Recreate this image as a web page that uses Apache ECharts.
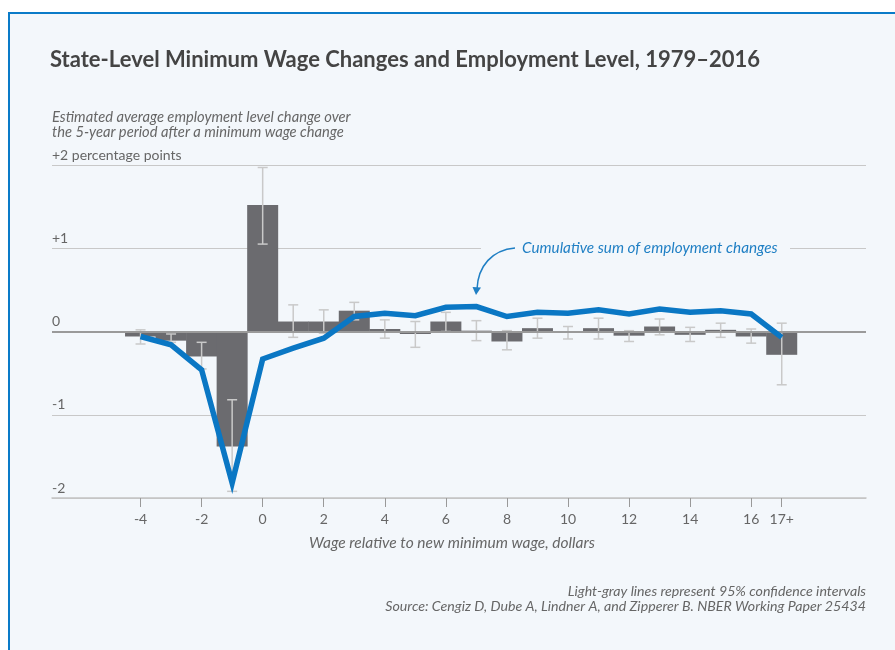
<!DOCTYPE html>
<html>
<head>
<meta charset="utf-8">
<script src="https://cdn.jsdelivr.net/npm/echarts@6/dist/echarts.min.js"></script>
<style>
  html, body { margin: 0; padding: 0; background: #fff; }
  #box { position: absolute; left: 8px; top: 12px; width: 900px; height: 660px;
         border-left: 2px solid #0a7bc8; border-top: 2px solid #0a7bc8; background: #f3f7fb; }
  #chart { position: absolute; left: 0; top: 0; width: 895px; height: 650px; }
</style>
</head>
<body>
<div id="box"></div>
<div id="chart"></div>
<script>
// wage relative to new minimum wage (17 = "17+")
var wageBins = [-4, -3, -2, -1, 0, 1, 2, 3, 4, 5, 6, 7, 8, 9, 10, 11, 12, 13, 14, 15, 16, 17];
// employment change by bin, percentage points
var empChange = [-0.06, -0.11, -0.30, -1.38, 1.52, 0.12, 0.12, 0.25, 0.03, -0.03, 0.12, 0.01,
                 -0.12, 0.04, -0.01, 0.04, -0.05, 0.06, -0.04, 0.02, -0.06, -0.28];
// 95% confidence interval
var ciHigh = [0.02, -0.03, -0.13, -0.82, 1.97, 0.32, 0.26, 0.35, 0.14, 0.12, 0.23, 0.13,
              0.01, 0.16, 0.06, 0.16, 0.01, 0.15, 0.05, 0.10, 0.03, 0.10];
var ciLow = [-0.15, -0.13, -0.45, -1.92, 1.05, -0.07, -0.02, 0.14, -0.08, -0.19, 0.00, -0.11,
             -0.22, -0.08, -0.09, -0.09, -0.12, -0.04, -0.12, -0.07, -0.14, -0.64];
// cumulative sum of employment changes
var cumSum = [-0.06, -0.16, -0.46, -1.82, -0.33, -0.20, -0.08, 0.18, 0.22, 0.19, 0.29, 0.30,
              0.18, 0.23, 0.22, 0.26, 0.21, 0.27, 0.23, 0.25, 0.21, -0.07];

var xTicks = [-4, -2, 0, 2, 4, 6, 8, 10, 12, 14, 16, 17];
var yTicks = [-2, -1, 0, 1, 2];
var yTickLabels = ['-2', '-1', '0', '+1', '+2 percentage points'];

var font = 'Lato, "Noto Sans", sans-serif';
var gray = '#666';
var bg = '#f3f7fb';

var barData = wageBins.map(function (w, i) { return [w, empChange[i]]; });
var ciData = wageBins.map(function (w, i) { return [w, ciHigh[i], ciLow[i]]; });
var lineData = wageBins.map(function (w, i) { return [w, cumSum[i]]; });

var chart = echarts.init(document.getElementById('chart'), null, { renderer: 'canvas' });

var option = {
  backgroundColor: 'transparent',
  animation: false,
  textStyle: { fontFamily: font },
  grid: { left: 52, right: 29, top: 165, bottom: 152 },
  xAxis: {
    type: 'value',
    min: -6.9,
    max: 19.76,
    splitLine: { show: false },
    axisLine: { onZero: false, lineStyle: { color: '#c4c4c4', width: 1.5 } },
    axisTick: { customValues: xTicks, length: 9, lineStyle: { color: '#999', width: 1 } },
    axisLabel: {
      customValues: xTicks,
      margin: 14,
      color: gray,
      fontSize: 14,
      fontFamily: font,
      formatter: function (v) { return v === 17 ? '17+' : String(v); }
    }
  },
  yAxis: {
    type: 'value',
    min: -2,
    max: 2,
    interval: 1,
    axisLine: { show: false },
    axisTick: { show: false },
    splitLine: { lineStyle: { color: '#c8c8c8', width: 1 } },
    axisLabel: {
      inside: true,
      margin: 0,
      verticalAlign: 'bottom',
      padding: [0, 0, 3, 0],
      color: gray,
      fontSize: 14,
      fontFamily: font,
      formatter: function (v) { return yTickLabels[yTicks.indexOf(v)]; }
    }
  },
  series: [
    {
      type: 'bar',
      data: barData,
      barWidth: 31,
      itemStyle: { color: '#6b6b6f' },
      z: 2,
      markLine: {
        silent: true,
        symbol: 'none',
        label: { show: false },
        lineStyle: { color: '#9a9a9a', width: 2, type: 'solid' },
        data: [{ yAxis: 0 }]
      }
    },
    {
      type: 'custom',
      data: ciData,
      encode: { x: 0, y: [1, 2] },
      z: 3,
      renderItem: function (params, api) {
        var x = api.value(0);
        var hi = api.coord([x, api.value(1)]);
        var lo = api.coord([x, api.value(2)]);
        var w = 5;
        var st = { stroke: '#c9c9c9', lineWidth: 1.5 };
        return {
          type: 'group',
          children: [
            { type: 'line', shape: { x1: hi[0], y1: hi[1], x2: lo[0], y2: lo[1] }, style: st },
            { type: 'line', shape: { x1: hi[0] - w, y1: hi[1], x2: hi[0] + w, y2: hi[1] }, style: st },
            { type: 'line', shape: { x1: lo[0] - w, y1: lo[1], x2: lo[0] + w, y2: lo[1] }, style: st }
          ]
        };
      }
    },
    {
      type: 'line',
      data: lineData,
      showSymbol: false,
      symbol: 'none',
      z: 5,
      lineStyle: { color: '#0a77c4', width: 5.5, join: 'miter' }
    }
  ],
  graphic: [
    {
      type: 'text', x: 50, y: 60,
      style: { text: 'State-Level Minimum Wage Changes and Employment Level, 1979\u20132016',
               font: 'bold 22px ' + font, fill: '#444', verticalAlign: 'middle' }
    },
    {
      type: 'text', x: 52, y: 110,
      style: { text: 'Estimated average employment level change over\nthe 5-year period after a minimum wage change',
               font: 'italic 14.7px ' + font, fill: gray, lineHeight: 15 }
    },
    {
      type: 'text', x: 452, y: 543,
      style: { text: 'Wage relative to new minimum wage, dollars', font: 'italic 15.5px ' + font,
               fill: gray, align: 'center', verticalAlign: 'middle' }
    },
    {
      type: 'text', x: 866, y: 584,
      style: { text: 'Light-gray lines represent 95% confidence intervals\nSource: Cengiz D, Dube A, Lindner A, and Zipperer B. NBER Working Paper 25434',
               font: 'italic 14.2px ' + font, fill: gray, align: 'right', lineHeight: 15 }
    },
    {
      type: 'rect', z: 10,
      shape: { x: 481, y: 245, width: 309, height: 6 },
      style: { fill: bg }
    },
    {
      type: 'text', z: 11, x: 522, y: 248,
      style: { text: 'Cumulative sum of employment changes', font: 'italic 15.3px ' + font,
               fill: '#1f7fc4', verticalAlign: 'middle' }
    },
    {
      type: 'bezierCurve', z: 11,
      shape: { x1: 515, y1: 248, cpx1: 492, cpy1: 250, cpx2: 478, cpy2: 266, x2: 477, y2: 289 },
      style: { stroke: '#1f7fc4', lineWidth: 1.5, fill: null }
    },
    {
      type: 'polygon', z: 11,
      shape: { points: [[472.5, 287], [481, 287.5], [476, 295]] },
      style: { fill: '#1f7fc4' }
    }
  ]
};

chart.setOption(option);
window.addEventListener('resize', chart.resize);
</script>
</body>
</html>
